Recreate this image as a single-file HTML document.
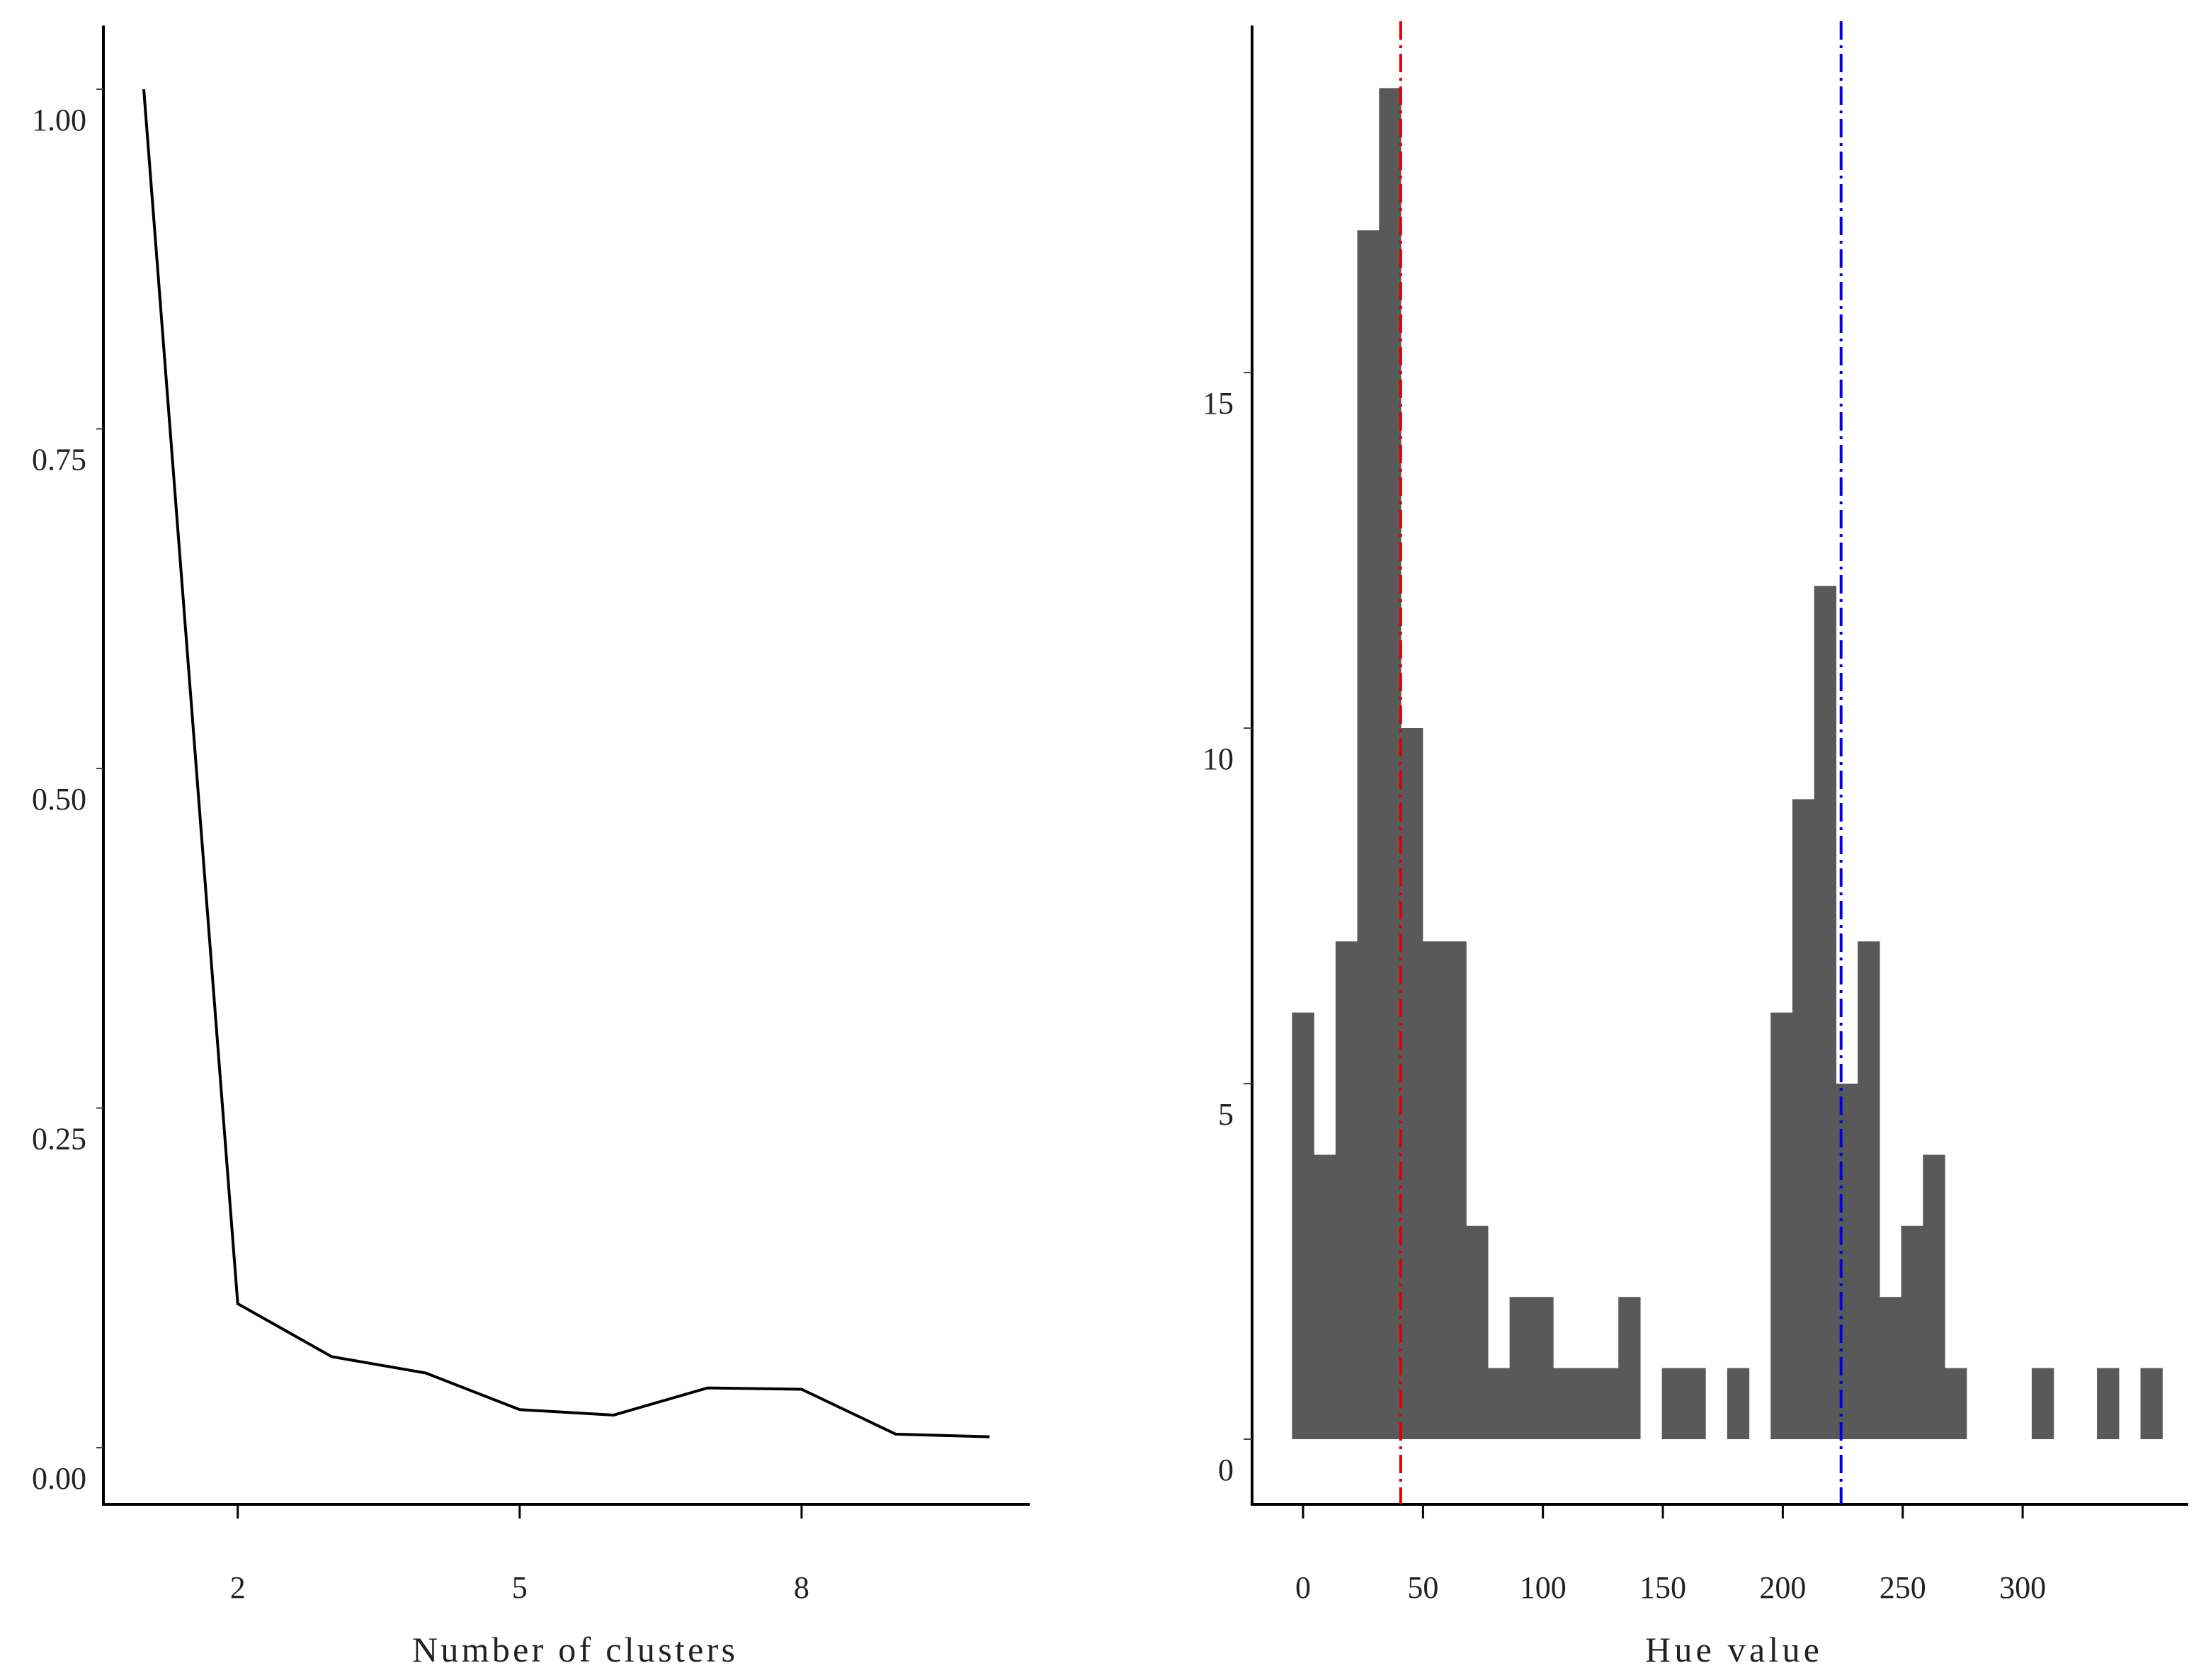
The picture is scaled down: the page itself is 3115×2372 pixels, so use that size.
<!DOCTYPE html>
<html><head><meta charset="utf-8"><style>
html,body{margin:0;padding:0;background:#fff;}
svg{display:block;}
text{font-family:"Liberation Serif",serif;fill:#222;}
</style></head><body>
<svg id="chart" width="3115" height="2372" viewBox="0 0 3115 2372" xmlns="http://www.w3.org/2000/svg">
<g id="left"></g>
<g id="right"></g>
</svg>
<script>
const clusterK = [1,2,3,4,5,6,7,8,9,10];
const clusterVals = [1.0,0.106,0.067,0.055,0.028,0.024,0.044,0.043,0.010,0.008];
const leftYTicks = [0,0.25,0.5,0.75,1.0];
const leftYLabels = ["0.00","0.25","0.50","0.75","1.00"];
const leftXTicks = [2,5,8];
const binStart = -4.6;
const binWidth = 9.07;
const binCounts = [6,4,7,17,19,10,7,7,3,1,2,2,1,1,1,2,0,1,1,0,1,0,6,9,12,5,7,2,3,4,1,0,0,0,1,0,0,1,0,1];
const rightYTicks = [0,5,10,15];
const rightXTicks = [0,50,100,150,200,250,300];
const redLine = 40.7;
const blueLine = 224.3;

const NS="http://www.w3.org/2000/svg";
function mk(parent,tag,attrs,txt){const e=document.createElementNS(NS,tag);for(const k in attrs)e.setAttribute(k,attrs[k]);if(txt!==undefined)e.textContent=txt;parent.appendChild(e);return e;}

// Left chart
const L=document.getElementById('left');
const lx=k=>203+(k-1)*132.7;
const ly=v=>2044-v*1918;
let e;
e=mk(L,'line',{x1:146,y1:36,x2:146,y2:2124,stroke:'#000','stroke-width':4});

e=mk(L,'line',{x1:144,y1:2124,x2:1454,y2:2124,stroke:'#000','stroke-width':4});

leftYTicks.forEach((v,i)=>{
  e=mk(L,'line',{x1:136,y1:ly(v),x2:146,y2:ly(v),stroke:'#444','stroke-width':2});
  
  e=mk(L,'text',{x:122,y:ly(v)+58,'text-anchor':'end','font-size':44},leftYLabels[i]);
  
});
leftXTicks.forEach(k=>{
  e=mk(L,'line',{x1:lx(k),y1:2124,x2:lx(k),y2:2144,stroke:'#000','stroke-width':3});
  
  e=mk(L,'text',{x:lx(k),y:2256,'text-anchor':'middle','font-size':44},String(k));
  
});
e=mk(L,'polyline',{points:clusterK.map((k,i)=>lx(k)+','+ly(clusterVals[i])).join(' '),fill:'none',stroke:'#000','stroke-width':4});

e=mk(L,'text',{x:810,y:2346,'text-anchor':'middle','font-size':50,textLength:456},'Number of clusters');


// Right chart
const R=document.getElementById('right');
const rx=h=>1840+h*3.387;
const ry=c=>2032-c*100.4;
binCounts.forEach((c,i)=>{
  if(c<=0)return;
  const x0=rx(binStart+i*binWidth),x1=rx(binStart+(i+1)*binWidth);
  e=mk(R,'rect',{x:x0,y:ry(c),width:x1-x0+0.6,height:ry(0)-ry(c),fill:'#595959'});
  
});
e=mk(R,'line',{x1:1768,y1:36,x2:1768,y2:2124,stroke:'#000','stroke-width':4});

e=mk(R,'line',{x1:1766,y1:2124,x2:3090,y2:2124,stroke:'#000','stroke-width':4});

rightYTicks.forEach(v=>{
  e=mk(R,'line',{x1:1756,y1:ry(v),x2:1768,y2:ry(v),stroke:'#444','stroke-width':2});
  
  e=mk(R,'text',{x:1742,y:ry(v)+58,'text-anchor':'end','font-size':44},String(v));
  
});
rightXTicks.forEach(v=>{
  e=mk(R,'line',{x1:rx(v),y1:2124,x2:rx(v),y2:2144,stroke:'#000','stroke-width':3});
  
  e=mk(R,'text',{x:rx(v),y:2256,'text-anchor':'middle','font-size':44},String(v));
  
});
e=mk(R,'line',{x1:rx(redLine),y1:30,x2:rx(redLine),y2:2124,stroke:'#e00000','stroke-width':4,'stroke-dasharray':'26 8 4 8'});

e=mk(R,'line',{x1:rx(blueLine),y1:30,x2:rx(blueLine),y2:2124,stroke:'#0000e0','stroke-width':4,'stroke-dasharray':'26 8 4 8'});

e=mk(R,'text',{x:2446,y:2346,'text-anchor':'middle','font-size':50,textLength:246},'Hue value');

</script>
</body></html>
